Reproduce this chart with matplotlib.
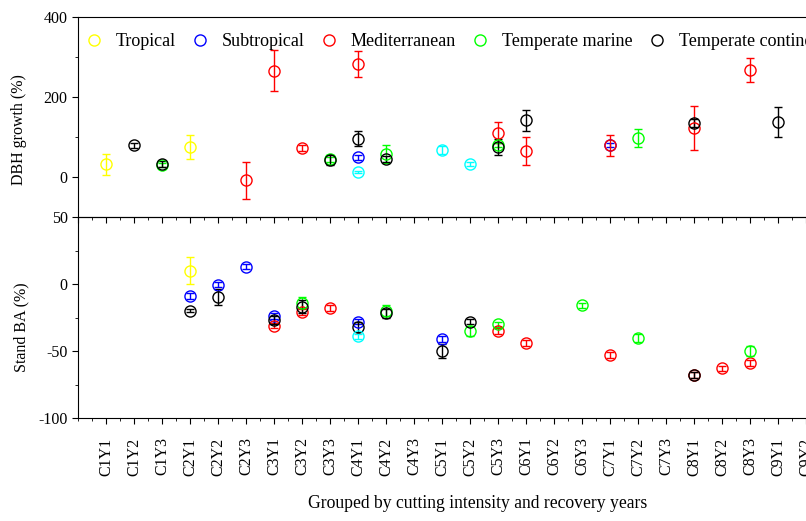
import matplotlib.pyplot as plt
from matplotlib.lines import Line2D
from matplotlib.ticker import MultipleLocator

plt.rcParams['font.family'] = ['Liberation Serif', 'DejaVu Serif']
plt.rcParams['axes.unicode_minus'] = False

# x categories (cutting intensity C, recovery year Y)
labels = ['C1Y1', 'C1Y2', 'C1Y3', 'C2Y1', 'C2Y2', 'C2Y3', 'C3Y1', 'C3Y2', 'C3Y3',
          'C4Y1', 'C4Y2', 'C4Y3', 'C5Y1', 'C5Y2', 'C5Y3', 'C6Y1', 'C6Y2', 'C6Y3',
          'C7Y1', 'C7Y2', 'C7Y3', 'C8Y1', 'C8Y2', 'C8Y3', 'C9Y1', 'C9Y2', 'C9Y3']

climates = ['Tropical', 'Subtropical', 'Mediterranean', 'Temperate marine',
            'Temperate continental', 'Other']
colors = ['#ffff00', '#0000ff', '#ff0000', '#00ff00', '#000000', '#00ffff']

# DBH growth (%)
dbh_trop_cat = ['C1Y1', 'C2Y1']
dbh_trop_val = [32, 76]
dbh_trop_err = [26, 30]

dbh_sub_cat = ['C4Y1', 'C7Y1']
dbh_sub_val = [49, 81]
dbh_sub_err = [7, 5]

dbh_med_cat = ['C2Y3', 'C3Y1', 'C3Y2', 'C4Y1', 'C5Y3', 'C6Y1', 'C7Y1', 'C8Y1', 'C8Y3']
dbh_med_val = [-8, 266, 72, 283, 111, 66, 79, 122, 267]
dbh_med_err = [46, 52, 7, 33, 27, 35, 27, 55, 30]

dbh_tm_cat = ['C1Y3', 'C3Y3', 'C4Y2', 'C5Y3', 'C7Y2']
dbh_tm_val = [30, 44, 58, 80, 97]
dbh_tm_err = [5, 6, 23, 6, 22]

dbh_tc_cat = ['C1Y2', 'C1Y3', 'C3Y3', 'C4Y1', 'C4Y2', 'C5Y3', 'C6Y1', 'C8Y1', 'C9Y1']
dbh_tc_val = [79, 32, 42, 96, 45, 74, 142, 135, 138]
dbh_tc_err = [6, 8, 12, 19, 8, 20, 26, 10, 38]

dbh_oth_cat = ['C4Y1', 'C5Y1', 'C5Y2']
dbh_oth_val = [12, 67, 32]
dbh_oth_err = [3, 10, 5]

# Stand BA (%)
ba_trop_cat = ['C2Y1']
ba_trop_val = [10]
ba_trop_err = [10]

ba_sub_cat = ['C2Y1', 'C2Y2', 'C2Y3', 'C3Y1', 'C4Y1', 'C5Y1']
ba_sub_val = [-9, -0.5, 13, -24, -28, -41]
ba_sub_err = [2, 2, 2, 2, 2, 2]

ba_med_cat = ['C3Y1', 'C3Y2', 'C3Y3', 'C5Y3', 'C6Y1', 'C7Y1', 'C8Y1', 'C8Y2', 'C8Y3']
ba_med_val = [-31, -21, -18, -35, -44, -53, -68, -63, -59]
ba_med_err = [2, 2, 2, 2, 2, 2, 2, 2, 2]

ba_tm_cat = ['C3Y2', 'C4Y2', 'C5Y2', 'C5Y3', 'C6Y3', 'C7Y2', 'C8Y3']
ba_tm_val = [-14, -20, -35, -30, -16, -40, -50]
ba_tm_err = [4, 4, 4, 2, 2, 3, 4]

ba_tc_cat = ['C2Y1', 'C2Y2', 'C3Y1', 'C3Y2', 'C4Y1', 'C4Y2', 'C5Y1', 'C5Y2', 'C8Y1']
ba_tc_val = [-20, -10, -27, -17, -32, -22, -50, -28, -68]
ba_tc_err = [1, 6, 3, 5, 4, 3, 5, 2, 2]

ba_oth_cat = ['C4Y1']
ba_oth_val = [-39]
ba_oth_err = [2]

dbh = [(dbh_trop_cat, dbh_trop_val, dbh_trop_err), (dbh_sub_cat, dbh_sub_val, dbh_sub_err),
       (dbh_med_cat, dbh_med_val, dbh_med_err), (dbh_tm_cat, dbh_tm_val, dbh_tm_err),
       (dbh_tc_cat, dbh_tc_val, dbh_tc_err), (dbh_oth_cat, dbh_oth_val, dbh_oth_err)]
ba = [(ba_trop_cat, ba_trop_val, ba_trop_err), (ba_sub_cat, ba_sub_val, ba_sub_err),
      (ba_med_cat, ba_med_val, ba_med_err), (ba_tm_cat, ba_tm_val, ba_tm_err),
      (ba_tc_cat, ba_tc_val, ba_tc_err), (ba_oth_cat, ba_oth_val, ba_oth_err)]

pos = {lab: i + 1 for i, lab in enumerate(labels)}

W, H = 806, 521
fig = plt.figure(figsize=(W / 100, H / 100), dpi=100)
ax1 = fig.add_axes([78 / W, (H - 217) / H, 784 / W, 200 / H])
ax2 = fig.add_axes([78 / W, (H - 418) / H, 784 / W, 201 / H])


def draw(ax, groups):
    for (cat, val, err), col in zip(groups, colors):
        ax.errorbar([pos[c] for c in cat], val, yerr=err, fmt='o', ms=8, mfc='none',
                    mec=col, mew=1, ecolor=col, elinewidth=1, capsize=3, capthick=1)


draw(ax1, dbh)
draw(ax2, ba)

for ax in (ax1, ax2):
    ax.set_xlim(0, 28)
    ax.spines['right'].set_visible(False)
    ax.tick_params(axis='y', which='major', direction='out', length=4, labelsize=11.5)
    ax.tick_params(axis='y', which='minor', direction='out', length=2)

# top panel
ax1.set_ylim(-100, 400)
ax1.set_yticks([0, 200, 400])
ax1.yaxis.set_minor_locator(MultipleLocator(100))
ax1.spines['bottom'].set_visible(False)
ax1.tick_params(axis='x', which='both', bottom=False, labelbottom=False)
ax1.set_ylabel('DBH growth (%)', fontsize=11.5)
ax1.yaxis.set_label_coords(-51 / 784, 0.435)

# bottom panel
ax2.set_ylim(-100, 50)
ax2.set_yticks([50, 0, -50, -100])
ax2.yaxis.set_minor_locator(MultipleLocator(25))
ax2.set_xticks(range(1, len(labels) + 1), labels, rotation=90, fontsize=11.5)
ax2.xaxis.set_minor_locator(MultipleLocator(0.5))
ax2.tick_params(axis='x', which='major', direction='out', length=4, pad=10)
ax2.tick_params(axis='x', which='minor', direction='out', length=2)
top = ax2.secondary_xaxis('top')
top.set_xticks(range(0, 29), [''] * 29)
top.xaxis.set_minor_locator(MultipleLocator(0.5))
top.tick_params(axis='x', which='major', direction='in', length=4)
top.tick_params(axis='x', which='minor', direction='in', length=2)
ax2.set_ylabel('Stand BA (%)', fontsize=11.5)
ax2.yaxis.set_label_coords(-49 / 784, 0.45)

fig.text(478 / W, 1 - 503 / H, 'Grouped by cutting intensity and recovery years',
         fontsize=12.7, ha='center', va='center')

handles = [Line2D([], [], ls='none', marker='o', ms=8, mfc='none', mec=c, mew=1)
           for c in colors[:5]]
ax1.legend(handles, climates[:5], loc='upper left', bbox_to_anchor=(0.009, 0.92),
           ncol=5, frameon=False, fontsize=13, handlelength=1.0, handletextpad=0.7,
           columnspacing=0.85, borderpad=0, borderaxespad=0)

fig.savefig('out.png', dpi=100)
